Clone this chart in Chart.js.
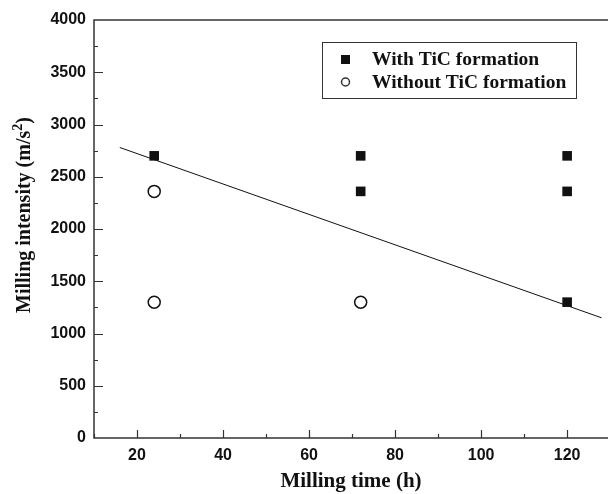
<!DOCTYPE html>
<html>
<head>
<meta charset="utf-8">
<script src="https://cdn.jsdelivr.net/npm/chart.js@4"></script>
<style>
  html, body { margin: 0; padding: 0; background: #fff; overflow: hidden; }
  #wrap { width: 608px; height: 494px; }
</style>
</head>
<body>
<div id="wrap"><canvas id="chart" width="608" height="494"></canvas></div>
<script>
const withTicTime = [24, 72, 72, 120, 120, 120];
const withTicIntensity = [2700, 2700, 2360, 2700, 2360, 1300];
const withoutTicTime = [24, 24, 72];
const withoutTicIntensity = [2360, 1300, 1300];
const fitTime = [16, 128];
const fitIntensity = [2780, 1150];
const xTicks = [20, 40, 60, 80, 100, 120];
const yTicks = [0, 500, 1000, 1500, 2000, 2500, 3000, 3500, 4000];
const seriesLabels = ['With TiC formation', 'Without TiC formation'];

const toPoints = (xs, ys) => xs.map((x, i) => ({ x, y: ys[i] }));
const AXIS = '#333';
const SERIF = '"Liberation Serif", "Times New Roman", serif';
const tickFont = { family: 'Liberation Sans, Arial, sans-serif', size: 16, weight: 'bold' };
const titleFont = { family: SERIF, size: 21, weight: 'bold' };

// frame, inward ticks (major + minor), y title with superscript, boxed legend
const framePlugin = {
  id: 'frame',
  afterDraw(chart) {
    const { ctx, chartArea: a, scales: { x, y } } = chart;
    ctx.save();
    ctx.strokeStyle = AXIS;
    ctx.lineWidth = 1.5;
    ctx.beginPath();
    ctx.moveTo(a.right + 2, a.top);
    ctx.lineTo(a.left, a.top);
    ctx.lineTo(a.left, a.bottom);
    ctx.lineTo(a.right + 2, a.bottom);
    ctx.stroke();
    ctx.lineWidth = 1.2;
    ctx.beginPath();
    for (let v = 10; v < 130; v += 10) {
      const px = Math.round(x.getPixelForValue(v)) + 0.5;
      const len = v % 20 === 0 ? 8 : 4;
      ctx.moveTo(px, a.bottom);
      ctx.lineTo(px, a.bottom - len);
    }
    for (let v = 250; v < 4000; v += 250) {
      const py = Math.round(y.getPixelForValue(v)) + 0.5;
      const len = v % 500 === 0 ? 9 : 4;
      ctx.moveTo(a.left, py);
      ctx.lineTo(a.left + len, py);
    }
    ctx.stroke();

    // y axis title, rotated, with a real superscript
    ctx.fillStyle = '#111';
    ctx.translate(25, 215);
    ctx.rotate(-Math.PI / 2);
    const main = 'Milling intensity (m/s';
    const sup = '2';
    const tail = ')';
    ctx.font = 'bold 20px ' + SERIF;
    const wMain = ctx.measureText(main).width;
    const wTail = ctx.measureText(tail).width;
    ctx.font = 'bold 14px ' + SERIF;
    const wSup = ctx.measureText(sup).width;
    let cx = -(wMain + wSup + wTail) / 2;
    ctx.textBaseline = 'middle';
    ctx.textAlign = 'left';
    ctx.font = 'bold 20px ' + SERIF;
    ctx.fillText(main, cx, 0);
    cx += wMain;
    ctx.font = 'bold 14px ' + SERIF;
    ctx.fillText(sup, cx, -7);
    cx += wSup;
    ctx.font = 'bold 20px ' + SERIF;
    ctx.fillText(tail, cx, 0);
    ctx.setTransform(1, 0, 0, 1, 0, 0);

    // legend
    const bx = 322, by = 42, bw = 254, bh = 56;
    ctx.lineWidth = 1;
    ctx.strokeStyle = '#333';
    ctx.strokeRect(bx + 0.5, by + 0.5, bw, bh);
    ctx.fillStyle = '#111';
    ctx.fillRect(341, 55, 9, 9);
    ctx.beginPath();
    ctx.lineWidth = 1.5;
    ctx.arc(345.5, 82, 4, 0, Math.PI * 2);
    ctx.stroke();
    ctx.font = 'bold 19.5px ' + SERIF;
    ctx.textBaseline = 'middle';
    ctx.fillText(seriesLabels[0], 372, 60);
    ctx.fillText(seriesLabels[1], 372, 83);
    ctx.restore();
  }
};

new Chart(document.getElementById('chart'), {
  type: 'scatter',
  plugins: [framePlugin],
  data: {
    datasets: [
      {
        label: seriesLabels[0],
        data: toPoints(withTicTime, withTicIntensity),
        pointStyle: 'rect',
        pointRadius: 6.8,
        backgroundColor: '#111',
        borderColor: '#111',
        borderWidth: 0,
      },
      {
        label: seriesLabels[1],
        data: toPoints(withoutTicTime, withoutTicIntensity),
        pointStyle: 'circle',
        pointRadius: 6,
        backgroundColor: '#fff',
        borderColor: '#111',
        borderWidth: 1.5,
      },
      {
        type: 'line',
        label: 'fit',
        data: toPoints(fitTime, fitIntensity),
        borderColor: '#111',
        borderWidth: 1,
        pointRadius: 0,
        fill: false,
      },
    ],
  },
  options: {
    responsive: false,
    animation: false,
    layout: { autoPadding: false, padding: { left: 0, right: 0, top: 20, bottom: 0 } },
    plugins: {
      legend: { display: false },
      tooltip: { enabled: false },
    },
    scales: {
      x: {
        type: 'linear',
        min: 10,
        max: 129.5,
        afterBuildTicks: (s) => { s.ticks = xTicks.map((value) => ({ value })); },
        afterFit: (s) => { s.height = 56; },
        grid: { display: false, drawTicks: false },
        border: { display: false },
        ticks: { color: '#111', font: tickFont, padding: 8, maxRotation: 0 },
        title: {
          display: true,
          text: 'Milling time (h)',
          color: '#111',
          font: titleFont,
          padding: { top: 0, bottom: 0 },
        },
      },
      y: {
        min: 0,
        max: 4000,
        afterBuildTicks: (s) => { s.ticks = yTicks.map((value) => ({ value })); },
        afterFit: (s) => { s.width = 94; },
        grid: { display: false, drawTicks: false },
        border: { display: false },
        ticks: { color: '#111', font: tickFont, padding: 8, callback: (v) => String(v) },
        title: { display: false },
      },
    },
  },
});
</script>
</body>
</html>
